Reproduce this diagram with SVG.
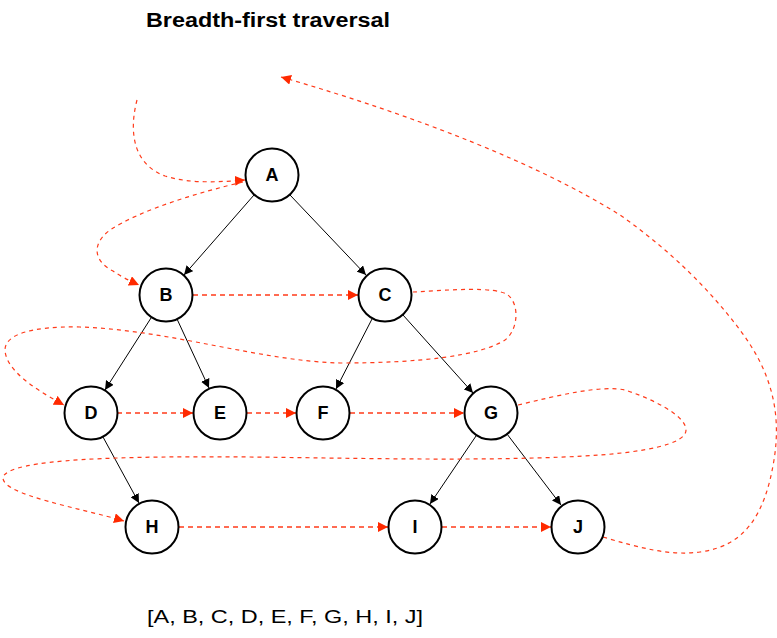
<svg xmlns="http://www.w3.org/2000/svg" width="777" height="638" viewBox="0 0 777 638">
<style>
.node circle{fill:#fff;stroke:#000;stroke-width:2}
.node text{font-family:"Liberation Sans",Arial,sans-serif;font-size:18px;font-weight:bold;text-anchor:middle;dominant-baseline:central;fill:#000}
.edge{fill:none;stroke:#000;stroke-width:1;marker-end:url(#ab)}
.trav{fill:none;stroke:#ff3b1a;stroke-width:1.2;stroke-dasharray:4,4;marker-end:url(#ar)}
.travs{fill:none;stroke:#ff3b1a;stroke-width:1.5;stroke-dasharray:5,4;marker-end:url(#ar)}
.lbl{font-family:"Liberation Sans",Arial,sans-serif;fill:#000}
</style>
<defs>
<marker id="ab" viewBox="0 0 10 10" refX="10" refY="5" markerWidth="9" markerHeight="9" markerUnits="userSpaceOnUse" orient="auto"><path d="M0,0 L10,5 L0,10 z" fill="#000"/></marker>
<marker id="ar" viewBox="0 0 10 10" refX="10" refY="5" markerWidth="10" markerHeight="10" markerUnits="userSpaceOnUse" orient="auto"><path d="M0,0 L10,5 L0,10 z" fill="#ff2a00"/></marker>
</defs>
<rect width="777" height="638" fill="#fff"/>
<text class="lbl" x="146" y="27" font-size="20" font-weight="bold" textLength="244" lengthAdjust="spacingAndGlyphs">Breadth-first traversal</text>
<g id="connectors">
<path class="edge" d="M254,195 L184,275"/>
<path class="edge" d="M290,195 L366,275"/>
<path class="edge" d="M151,318 L105,390"/>
<path class="edge" d="M177,319 L209,388"/>
<path class="edge" d="M372,319 L336,389"/>
<path class="edge" d="M403,315 L473,393"/>
<path class="edge" d="M103,437 L139,503"/>
<path class="edge" d="M476,436 L430,504"/>
<path class="edge" d="M507,434 L561,505"/>
<path class="trav" d="M137,100 C128,135 135,165 165,176 C190,184 220,182 245,180"/>
<path class="trav" d="M243,182 C200,192 140,210 110,230 C90,245 95,262 113,271 C120,276 128,280 139,285"/>
<path class="travs" d="M193,295 L358,295"/>
<path class="trav" d="M413,292 C450,290 495,286 508,295 C520,305 518,330 505,340 C480,356 420,363 340,363 C260,361 170,330 80,327 C30,326 5,335 5,350 C6,372 40,392 64,405"/>
<path class="travs" d="M117,413 L193,413"/>
<path class="travs" d="M247,413 L296,413"/>
<path class="travs" d="M350,413 L464,413"/>
<path class="trav" d="M518,405 C560,395 600,385 625,390 C650,398 686,415 686,430 C686,445 640,452 600,455 C500,462 350,458 250,457 C130,456 5,458 3,478 C3,495 80,508 124,521"/>
<path class="travs" d="M179,527 L388,527"/>
<path class="travs" d="M442,527 L551,527"/>
<path class="trav" d="M603,537 C640,548 670,556 700,552 C745,546 765,515 774,460 C782,410 770,370 740,330 C710,290 670,250 620,215 C540,165 420,117 281,77"/>
</g>
<g id="node-A" class="node"><circle cx="272" cy="175" r="26.5"/><text x="272" y="175">A</text></g>
<g id="node-B" class="node"><circle cx="166" cy="295" r="26.5"/><text x="166" y="295">B</text></g>
<g id="node-C" class="node"><circle cx="385" cy="295" r="26.5"/><text x="385" y="295">C</text></g>
<g id="node-D" class="node"><circle cx="91" cy="413" r="26.5"/><text x="91" y="413">D</text></g>
<g id="node-E" class="node"><circle cx="220" cy="413" r="26.5"/><text x="220" y="413">E</text></g>
<g id="node-F" class="node"><circle cx="323" cy="413" r="26.5"/><text x="323" y="413">F</text></g>
<g id="node-G" class="node"><circle cx="491" cy="413" r="26.5"/><text x="491" y="413">G</text></g>
<g id="node-H" class="node"><circle cx="152" cy="527" r="26.5"/><text x="152" y="527">H</text></g>
<g id="node-I" class="node"><circle cx="415" cy="527" r="26.5"/><text x="415" y="527">I</text></g>
<g id="node-J" class="node"><circle cx="578" cy="527" r="26.5"/><text x="578" y="527">J</text></g>
<text class="lbl" x="147" y="623" font-size="19" textLength="276" lengthAdjust="spacingAndGlyphs">[A, B, C, D, E, F, G, H, I, J]</text>
</svg>
